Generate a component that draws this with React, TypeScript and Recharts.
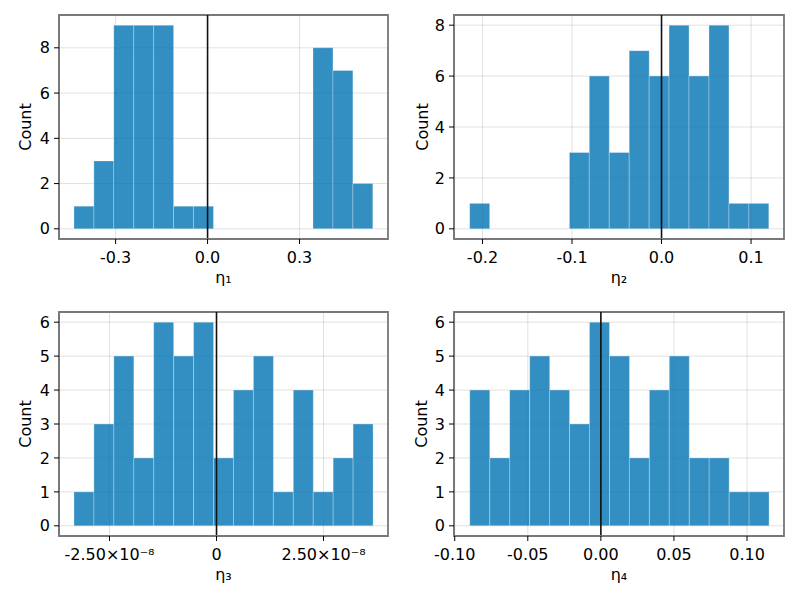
import React from 'react';
import {
  BarChart,
  Bar,
  XAxis,
  YAxis,
  CartesianGrid,
  ReferenceLine,
  ReferenceArea,
} from 'recharts';

// bin centres and counts
const eta1Centers = [-0.4035, -0.3385, -0.2735, -0.2085, -0.1435, -0.0785, -0.0135, 0.0515, 0.1165, 0.1815, 0.2465, 0.3115, 0.3765, 0.4415, 0.5065];
const eta1Counts = [1, 3, 9, 9, 9, 1, 1, 0, 0, 0, 0, 0, 8, 7, 2];

const eta2Centers = [-0.2032, -0.1809, -0.1586, -0.1364, -0.1141, -0.0918, -0.0696, -0.0473, -0.025, -0.0027, 0.0195, 0.0418, 0.0641, 0.0864, 0.1086];
const eta2Counts = [1, 0, 0, 0, 0, 3, 6, 3, 7, 6, 8, 6, 8, 1, 1];

const eta3Centers = [-3.098e-8, -2.632e-8, -2.166e-8, -1.7e-8, -1.235e-8, -0.769e-8, -0.303e-8, 0.163e-8, 0.629e-8, 1.095e-8, 1.561e-8, 2.027e-8, 2.493e-8, 2.958e-8, 3.424e-8];
const eta3Counts = [1, 3, 5, 2, 6, 5, 6, 2, 4, 5, 1, 4, 1, 2, 3];

const eta4Centers = [-0.0829, -0.0692, -0.0556, -0.0419, -0.0283, -0.0146, -0.001, 0.0127, 0.0263, 0.04, 0.0536, 0.0673, 0.0809, 0.0946, 0.1082];
const eta4Counts = [4, 2, 4, 5, 4, 3, 6, 5, 2, 4, 5, 2, 2, 1, 1];

const eta1Ticks = [-0.3, 0, 0.3];
const eta1TickLabels = ['-0.3', '0.0', '0.3'];
const eta2Ticks = [-0.2, -0.1, 0, 0.1];
const eta2TickLabels = ['-0.2', '-0.1', '0.0', '0.1'];
const eta3Ticks = [-2.5e-8, 0, 2.5e-8];
const eta3TickLabels = ['-2.50×10⁻⁸', '0', '2.50×10⁻⁸'];
const eta4Ticks = [-0.1, -0.05, 0, 0.05, 0.1];
const eta4TickLabels = ['-0.10', '-0.05', '0.00', '0.05', '0.10'];

const countTicks8 = [0, 2, 4, 6, 8];
const countTicks6 = [0, 1, 2, 3, 4, 5, 6];

const FONT = 'DejaVu Sans';
const BAR = '#0072B2';
const FRAME = '#787878';
const FS = 16;

function Panel(props: any) {
  const {
    centers, counts, xDomain, xTicks, xTickLabels, yDomain, yTicks,
    xLabel, yWidth, right, top, bottom, countX,
  } = props;
  const data = centers.map((x: number, i: number) => ({ x, count: counts[i] }));
  const tickStyle = { fontSize: FS, fill: '#000', fontFamily: FONT };

  return (
    <BarChart
      width={400}
      height={300}
      data={data}
      barCategoryGap={0}
      barGap={0}
      margin={{ top, right, bottom, left: 0 }}
      style={{ fontFamily: FONT }}
    >
      <CartesianGrid stroke="rgba(0,0,0,0.12)" strokeWidth={1} />
      <XAxis
        dataKey="x"
        type="number"
        domain={xDomain}
        allowDataOverflow
        ticks={xTicks}
        interval={0}
        tickFormatter={(v: number) => {
          const i = xTicks.findIndex((t: number) => Math.abs(t - v) < 1e-12);
          return i >= 0 ? xTickLabels[i] : String(v);
        }}
        tick={tickStyle}
        tickSize={5}
        tickMargin={8}
        tickLine={{ stroke: '#000', strokeWidth: 1 }}
        axisLine={{ stroke: FRAME, strokeWidth: 1.8 }}
        height={48}
        label={{ value: xLabel, position: 'insideBottom', offset: 4, style: { fontSize: FS, fill: '#000', fontFamily: FONT } }}
      />
      <YAxis
        type="number"
        domain={yDomain}
        allowDataOverflow
        ticks={yTicks}
        interval={0}
        tick={tickStyle}
        tickSize={5}
        tickMargin={4}
        tickLine={{ stroke: '#000', strokeWidth: 1 }}
        axisLine={{ stroke: FRAME, strokeWidth: 1.8 }}
        width={yWidth}
        label={{ value: 'Count', angle: -90, position: 'insideLeft', offset: countX, style: { textAnchor: 'middle', fontSize: FS, fill: '#000', fontFamily: FONT } }}
      />
      <Bar
        dataKey="count"
        fill={BAR}
        fillOpacity={0.8}
        stroke="#ffffff"
        strokeOpacity={0.3}
        strokeWidth={1}
        isAnimationActive={false}
      />
      <ReferenceLine x={0} stroke="#111" strokeWidth={1.6} />
      <ReferenceArea
        x1={xDomain[0]}
        x2={xDomain[1]}
        y1={yDomain[0]}
        y2={yDomain[1]}
        fill="none"
        stroke={FRAME}
        strokeWidth={1.8}
        ifOverflow="extendDomain"
      />
    </BarChart>
  );
}

export default function App() {
  return (
    <div style={{ position: 'absolute', left: 0, top: 0, width: 800, height: 600, background: '#fff' }}>
      <div style={{ position: 'absolute', left: 0, top: 0 }}>
        <Panel
          centers={eta1Centers}
          counts={eta1Counts}
          xDomain={[-0.4848, 0.5888]}
          xTicks={eta1Ticks}
          xTickLabels={eta1TickLabels}
          yDomain={[-0.45, 9.45]}
          yTicks={countTicks8}
          xLabel="η₁"
          yWidth={59}
          right={12}
          top={15}
          bottom={13}
          countX={25}
        />
      </div>
      <div style={{ position: 'absolute', left: 400, top: 0 }}>
        <Panel
          centers={eta2Centers}
          counts={eta2Counts}
          xDomain={[-0.2318, 0.1368]}
          xTicks={eta2Ticks}
          xTickLabels={eta2TickLabels}
          yDomain={[-0.4, 8.4]}
          yTicks={countTicks8}
          xLabel="η₂"
          yWidth={54}
          right={16}
          top={15}
          bottom={13}
          countX={22}
        />
      </div>
      <div style={{ position: 'absolute', left: 0, top: 300 }}>
        <Panel
          centers={eta3Centers}
          counts={eta3Counts}
          xDomain={[-3.68e-8, 4.007e-8]}
          xTicks={eta3Ticks}
          xTickLabels={eta3TickLabels}
          yDomain={[-0.3, 6.3]}
          yTicks={countTicks6}
          xLabel="η₃"
          yWidth={59}
          right={12}
          top={12}
          bottom={16}
          countX={25}
        />
      </div>
      <div style={{ position: 'absolute', left: 400, top: 300 }}>
        <Panel
          centers={eta4Centers}
          counts={eta4Counts}
          xDomain={[-0.1005, 0.1253]}
          xTicks={eta4Ticks}
          xTickLabels={eta4TickLabels}
          yDomain={[-0.3, 6.3]}
          yTicks={countTicks6}
          xLabel="η₄"
          yWidth={54}
          right={16}
          top={12}
          bottom={16}
          countX={21}
        />
      </div>
    </div>
  );
}
